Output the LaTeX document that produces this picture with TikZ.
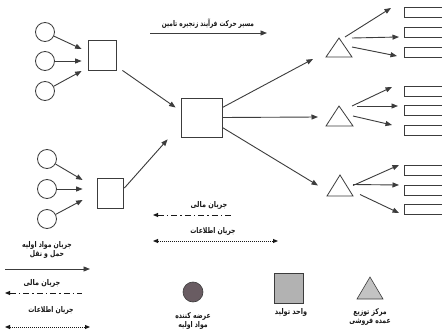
\documentclass[tikz,border=0pt]{standalone}
\usepackage{fontspec}
\newfontfamily\fa[Script=Arabic,BoldFont={DejaVu Sans Bold}]{DejaVu Sans}
\TeXXeTstate=1
\usetikzlibrary{arrows.meta,calc}
\newcommand\fatxt[2][0.9]{\scalebox{#1}[1.1]{\beginR #2\endR}}
\definecolor{ink}{RGB}{60,60,60}
\definecolor{txt}{RGB}{25,25,25}
\definecolor{supfill}{RGB}{105,92,98}
\definecolor{boxfill}{RGB}{178,178,178}
\definecolor{trifill}{RGB}{195,195,195}
\tikzset{
  src/.style={circle, draw=ink, line width=0.8pt, minimum size=19pt, inner sep=0pt},
  unit/.style={rectangle, draw=ink, line width=0.8pt, inner sep=0pt},
  shop/.style={rectangle, draw=ink, line width=0.8pt, inner sep=0pt, minimum width=42pt, minimum height=10pt, anchor=west},
  flow/.style={-{Triangle[length=6.5pt,width=5pt]}, draw=ink, line width=0.9pt},
  money/.style={{Triangle[length=5pt,width=4pt]}-, draw=txt, line width=1pt, dash pattern=on 6pt off 3pt on 1.5pt off 3pt},
  info/.style={{Triangle[length=5pt,width=4pt]}-{Triangle[length=5pt,width=4pt]}, draw=txt, line width=1pt, dash pattern=on 1pt off 1pt},
  lbl/.style={font=\fa\bfseries\fontsize{7.2}{9}\selectfont, text=txt, inner sep=0pt, align=center},
}
\begin{document}
\begin{tikzpicture}[x=1pt,y=-1pt,color=ink,line width=0.8pt]
\useasboundingbox (0,0) rectangle (442,332);
\clip (0,0) rectangle (442,332);
\fill[white] (0,0) rectangle (442,332);

% sources top
\node[src] (c1) at (45,32) {};
\node[src] (c2) at (45,61) {};
\node[src] (c3) at (45,91) {};
\node[unit, minimum width=28pt, minimum height=30pt] (b1) at (102,55) {};
\draw[flow] (c1) -- ($(b1.west)+(-6,-6)$);
\draw[flow] (c2) -- ($(b1.west)+(-6,6)$);
\draw[flow] (c3) -- ($(b1.west)+(-6,16)$);

% sources bottom
\node[src] (c4) at (47,159) {};
\node[src] (c5) at (47,189) {};
\node[src] (c6) at (47,219) {};
\node[unit, minimum width=26pt, minimum height=30pt] (b2) at (110,193) {};
\draw[flow] (c4) -- ($(b2.west)+(-14,-13)$);
\draw[flow] (c5) -- ($(b2.west)+(-14,-4)$);
\draw[flow] (c6) -- ($(b2.west)+(-14,7)$);

% central unit
\node[unit, minimum width=41pt, minimum height=39pt] (bc) at (201.5,117.5) {};
\draw[flow] ($(b1.south east)+(6,0)$) -- ($(bc.west)+(-5,-10)$);
\draw[flow] ($(b2.east)+(1,-5)$) -- ($(bc.south west)+(-13,2)$);

% distribution triangles
\coordinate (t1) at (339,48);
\coordinate (t2) at (339,116);
\coordinate (t3) at (340,185.5);
\draw (t1) ++(-13,9) -- ++(13,-19) -- ++(13,19) -- cycle;
\draw (t2) ++(-13,10) -- ++(13,-20) -- ++(14,20) -- cycle;
\draw (t3) ++(-13,10.5) -- ++(13,-21) -- ++(13,21) -- cycle;
\draw[flow] ($(bc.east)+(0,-10)$) -- ($(t1)+(-26,11)$);
\draw[flow] ($(bc.east)+(0,0)$) -- ($(t2)+(-21,1)$);
\draw[flow] ($(bc.east)+(0,10)$) -- ($(t3)+(-22,0)$);

% retailers
\node[shop] (r1) at (404,12) {};
\node[shop] (r2) at (404,32) {};
\node[shop] (r3) at (404,52) {};
\node[shop] (r4) at (404,91) {};
\node[shop] (r5) at (404,110) {};
\node[shop] (r6) at (404,130) {};
\node[shop] (r7) at (404,170) {};
\node[shop] (r8) at (404,190) {};
\node[shop] (r9) at (404,209) {};
\draw[flow] ($(t1)+(6,-11)$) -- ($(r1.west)+(-13,-4)$);
\draw[flow] ($(t1)+(13,-10)$) -- ($(r2.west)+(-5,5)$);
\draw[flow] ($(t1)+(13,-1)$) -- ($(r3.west)+(-7,4)$);
\draw[flow] ($(t2)+(13,-10)$) -- ($(r4.west)+(-12,-4)$);
\draw[flow] ($(t2)+(18,-10)$) -- ($(r5.west)+(-6,-4)$);
\draw[flow] ($(t2)+(14,0)$) -- ($(r6.west)+(-12,-5)$);
\draw[flow] ($(t3)+(13,0)$) -- ($(r7.west)+(-5,-5)$);
\draw[flow] ($(t3)+(13,-1)$) -- ($(r8.west)+(-5,-5)$);
\draw[flow] ($(t3)+(20,9)$) -- ($(r9.west)+(-5,4)$);

% top legend
\node[lbl] (ttl) at (208,24) {\fatxt[0.8]{مسیر حرکت فرآیند زنجیره تامین}};
\coordinate (ta) at (150,33);
\coordinate (tb) at (267,33);
\draw[flow] (ta) -- (tb);

% middle legend
\node[lbl] (mm) at (209,205) {\fatxt{جریان مالی}};
\coordinate (ma) at (234,215);
\coordinate (mb) at (153,215);
\draw[money] (mb) -- (ma);
\node[lbl] (mi) at (213,231) {\fatxt[0.85]{جریان اطلاعات}};
\coordinate (ia) at (153,241);
\coordinate (ib) at (278,241);
\draw[info] (ia) -- (ib);

% bottom-left legend
\node[lbl] (lm) at (47,250) {\fatxt[0.85]{جریان مواد اولیه}\\\fatxt[0.85]{حمل و نقل}};
\coordinate (la) at (5,269);
\coordinate (lb) at (90,269);
\draw[flow] (la) -- (lb);
\node[lbl] (lf) at (42,283) {\fatxt{جریان مالی}};
\coordinate (fa) at (5,293);
\coordinate (fb) at (82,293);
\draw[money] (fa) -- (fb);
\node[lbl] (li) at (51,310) {\fatxt[0.85]{جریان اطلاعات}};
\coordinate (ja) at (5,327);
\coordinate (jb) at (90,327);
\draw[info] (ja) -- (jb);

% symbol legend
\node[circle, fill=supfill, draw=ink, line width=0.6pt, minimum size=20pt, inner sep=0pt] (ks) at (193,292) {};
\node[lbl] (ksl) at (193,321) {\fatxt[0.85]{عرضه کننده}\\\fatxt[0.85]{مواد اولیه}};
\node[rectangle, fill=boxfill, draw=ink, line width=0.6pt, minimum width=29pt, minimum height=30pt, inner sep=0pt] (ku) at (288.5,288) {};
\node[lbl] (kul) at (291,312) {\fatxt{واحد تولید}};
\coordinate (kt) at (370,288);
\draw[fill=trifill, line width=0.6pt] (kt) ++(-13,11) -- ++(13,-22) -- ++(13,22) -- cycle;
\node[lbl] (ktl) at (370,316.5) {\fatxt[0.85]{مرکز توزیع}\\\fatxt[0.85]{عمده فروشی}};
\end{tikzpicture}
\end{document}
